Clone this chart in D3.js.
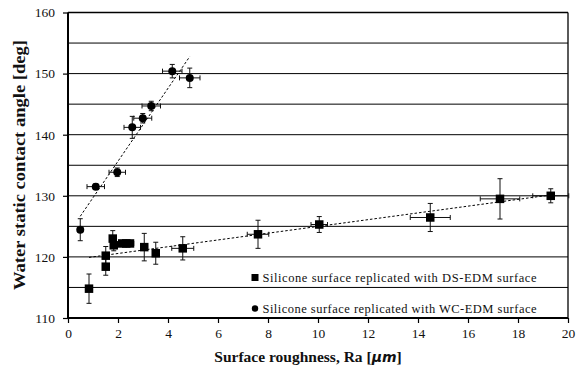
<!DOCTYPE html>
<html>
<head>
<meta charset="utf-8">
<script src="https://d3js.org/d3.v7.min.js"></script>
<style>
  html, body { margin: 0; padding: 0; background: #fff; }
  svg { display: block; }
  text { font-family: "Liberation Serif", "Times New Roman", serif; fill: #111; }
</style>
</head>
<body>
<svg id="chart" width="588" height="369"></svg>
<script>
// WC-EDM replicated silicone surfaces
const wcRa        = [0.49, 1.11, 1.97, 2.57, 2.99, 3.33, 4.17, 4.87];
const wcAngle     = [124.45, 131.5, 133.85, 141.2, 142.7, 144.7, 150.4, 149.3];
const wcRaErr     = [0.1, 0.35, 0.33, 0.33, 0.36, 0.37, 0.39, 0.41];
const wcAngleErr  = [1.8, 0.45, 0.7, 1.8, 0.77, 0.77, 1.1, 1.6];

// DS-EDM replicated silicone surfaces
const dsRa        = [0.84, 1.51, 1.51, 1.79, 1.83, 2.17, 2.33, 2.48, 3.05, 3.51, 4.59, 7.6, 10.05, 14.49, 17.28, 19.31];
const dsAngle     = [114.8, 120.2, 118.4, 123.0, 121.9, 122.2, 122.2, 122.2, 121.6, 120.6, 121.4, 123.7, 125.3, 126.45, 129.5, 130.0];
const dsRaErr     = [0.1, 0.1, 0.1, 0.1, 0.1, 0.15, 0.15, 0.15, 0.1, 0.1, 0.44, 0.43, 0.33, 0.8, 0.79, 0.72];
const dsAngleErr  = [2.4, 1.5, 1.4, 1.3, 0.9, 0.4, 0.4, 0.4, 2.25, 1.8, 1.9, 2.3, 1.3, 2.3, 3.3, 1.15];

// Axis ticks
const xTicks = [0, 2, 4, 6, 8, 10, 12, 14, 16, 18, 20];
const yTicks = [110, 120, 130, 140, 150, 160];
const yGrid  = [115, 120, 125, 130, 135, 140, 145, 150, 155];

const seriesLabels = [
  "Silicone surface replicated with DS-EDM surface",
  "Silicone surface replicated with WC-EDM surface"
];

const svg = d3.select("#chart");
const plotL = 68, plotR = 568, plotT = 12.5, plotB = 318;

const x = d3.scaleLinear().domain([0, 20]).range([plotL, plotR]);
const y = d3.scaleLinear().domain([110, 160]).range([plotB, plotT]);

// Horizontal gridlines
svg.append("g").selectAll("line").data(yGrid).join("line")
  .attr("x1", plotL).attr("x2", plotR)
  .attr("y1", d => y(d)).attr("y2", d => y(d))
  .attr("stroke", "#000").attr("stroke-width", 1);

// Plot frame (top and right)
svg.append("line").attr("x1", plotL).attr("x2", plotR).attr("y1", y(160)).attr("y2", y(160))
  .attr("stroke", "#000").attr("stroke-width", 1.3);
svg.append("line").attr("x1", plotR).attr("x2", plotR).attr("y1", y(160)).attr("y2", y(110))
  .attr("stroke", "#000").attr("stroke-width", 1.3);

// Axes
const xAxis = svg.append("g").attr("transform", `translate(0,${plotB})`)
  .call(d3.axisBottom(x).tickValues(xTicks).tickSize(5).tickPadding(5).tickFormat(d3.format("d")));
const yAxis = svg.append("g").attr("transform", `translate(${plotL},0)`)
  .call(d3.axisLeft(y).tickValues(yTicks).tickSize(5).tickPadding(8).tickFormat(d3.format("d")));

[xAxis, yAxis].forEach(g => {
  g.select(".domain").attr("stroke", "#000").attr("stroke-width", 2);
  g.selectAll(".tick line").attr("stroke", "#000").attr("stroke-width", 1.2);
  g.selectAll(".tick text")
    .attr("font-family", "Liberation Serif, serif")
    .attr("font-size", 13.5).attr("fill", "#222");
});
xAxis.selectAll(".domain").attr("d", `M${plotL},0H${plotR}`);
yAxis.selectAll(".domain").attr("d", `M0,${y(160)}V${plotB}`);

// Least-squares trendline over the data's Ra range
function trend(xs, ys) {
  const mx = d3.mean(xs), my = d3.mean(ys);
  const sxy = d3.sum(xs, (v, i) => (v - mx) * (ys[i] - my));
  const sxx = d3.sum(xs, v => (v - mx) * (v - mx));
  const b = sxy / sxx, a = my - b * mx;
  const [x0, x1] = d3.extent(xs);
  return [[x0, a + b * x0], [x1, a + b * x1]];
}
const line = d3.line().x(d => x(d[0])).y(d => y(d[1]));
[[dsRa, dsAngle], [wcRa, wcAngle]].forEach(([xs, ys]) => {
  svg.append("path").attr("d", line(trend(xs, ys)))
    .attr("fill", "none").attr("stroke", "#000").attr("stroke-width", 1)
    .attr("stroke-dasharray", "2.5,2");
});

// Error bars with caps
function errorBars(xs, ys, xe, ye) {
  const g = svg.append("g").attr("stroke", "#111").attr("stroke-width", 1).attr("fill", "none");
  const cap = 2.5;
  xs.forEach((xv, i) => {
    const cx = x(xv), cy = y(ys[i]);
    const yt = y(ys[i] + ye[i]), yb = y(ys[i] - ye[i]);
    const xl = x(xv - xe[i]), xr = x(xv + xe[i]);
    g.append("path").attr("d",
      `M${cx},${yt}V${yb}M${cx - cap},${yt}H${cx + cap}M${cx - cap},${yb}H${cx + cap}` +
      `M${xl},${cy}H${xr}M${xl},${cy - cap}V${cy + cap}M${xr},${cy - cap}V${cy + cap}`);
  });
}
errorBars(dsRa, dsAngle, dsRaErr, dsAngleErr);
errorBars(wcRa, wcAngle, wcRaErr, wcAngleErr);

// Markers
const sq = 8.5;
svg.append("g").selectAll("rect").data(dsRa).join("rect")
  .attr("x", (d, i) => x(d) - sq / 2).attr("y", (d, i) => y(dsAngle[i]) - sq / 2)
  .attr("width", sq).attr("height", sq).attr("fill", "#000");
svg.append("g").selectAll("circle").data(wcRa).join("circle")
  .attr("cx", d => x(d)).attr("cy", (d, i) => y(wcAngle[i])).attr("r", 4).attr("fill", "#000");

// Legend
const legend = svg.append("g");
legend.append("rect").attr("x", 251.5).attr("y", 274).attr("width", 7).attr("height", 7).attr("fill", "#000");
legend.append("circle").attr("cx", 255).attr("cy", 308.5).attr("r", 3.2).attr("fill", "#000");
legend.selectAll("text").data(seriesLabels).join("text")
  .attr("x", 262.5).attr("y", (d, i) => i === 0 ? 282 : 312.5)
  .attr("font-size", 12.5)
  .attr("textLength", 274).attr("lengthAdjust", "spacing")
  .text(d => d);

// Axis titles
svg.append("text")
  .attr("transform", `translate(25,165) rotate(-90)`)
  .attr("text-anchor", "middle").attr("font-weight", "bold").attr("font-size", 16)
  .attr("textLength", 250).attr("lengthAdjust", "spacingAndGlyphs")
  .text("Water static contact angle [deg]");

const xt = svg.append("text")
  .attr("x", 308).attr("y", 362)
  .attr("text-anchor", "middle").attr("font-weight", "bold").attr("font-size", 15.5);
xt.append("tspan").text("Surface roughness, Ra [");
xt.append("tspan").attr("font-family", "DejaVu Sans, sans-serif").attr("font-style", "italic").attr("font-size", 14).text("μm");
xt.append("tspan").text("]");
</script>
</body>
</html>
